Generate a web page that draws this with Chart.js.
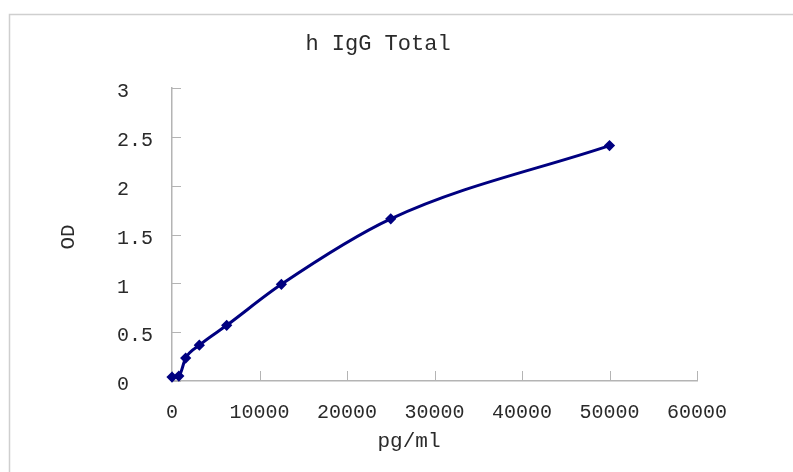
<!DOCTYPE html>
<html>
<head>
<meta charset="utf-8">
<title>h IgG Total</title>
<script src="https://cdn.jsdelivr.net/npm/chart.js@4/dist/chart.umd.min.js"></script>
<style>
  html, body { margin: 0; padding: 0; background: #fff; }
  #wrap { width: 793px; height: 472px; }
</style>
</head>
<body>
<div id="wrap"><canvas id="chart" width="793" height="472"></canvas></div>
<script>
// standard curve values
var concentrations = [0, 781.25, 1562.5, 3125, 6250, 12500, 25000, 50000];
var odValues = [0.04, 0.05, 0.235, 0.367, 0.57, 0.99, 1.66, 2.41];
var xTicks = [0, 10000, 20000, 30000, 40000, 50000, 60000];
var yTicks = [0, 0.5, 1, 1.5, 2, 2.5, 3];

var titleText = 'h IgG Total';
var xTitle = 'pg/ml';
var yTitle = 'OD';

var axisColor = '#b4b4b4';
var textColor = '#2a2a2a';
var monoFont = '"Liberation Mono", "DejaVu Sans Mono", monospace';

var points = concentrations.map(function (c, i) {
    return { x: c, y: odValues[i] };
});

// frame, inward tick marks and the free-placed titles
var decorPlugin = {
    id: 'decor',
    beforeDraw: function (chart) {
        var ctx = chart.ctx;
        ctx.save();
        ctx.fillStyle = '#fff';
        ctx.fillRect(0, 0, chart.width, chart.height);
        ctx.strokeStyle = '#cfcfcf';
        ctx.lineWidth = 1.5;
        ctx.beginPath();
        ctx.moveTo(9.5, chart.height);
        ctx.lineTo(9.5, 14.5);
        ctx.lineTo(chart.width, 14.5);
        ctx.stroke();
        ctx.restore();
    },
    beforeDatasetsDraw: function (chart) {
        var ctx = chart.ctx;
        var xs = chart.scales.x, ys = chart.scales.y;
        var area = chart.chartArea;
        ctx.save();
        ctx.strokeStyle = axisColor;
        ctx.lineWidth = 1;
        ctx.beginPath();
        yTicks.forEach(function (v) {
            var py = Math.round(ys.getPixelForValue(v)) + 0.5;
            ctx.moveTo(area.left, py);
            ctx.lineTo(area.left + 9, py);
        });
        xTicks.forEach(function (v) {
            var px = Math.round(xs.getPixelForValue(v)) + 0.5;
            ctx.moveTo(px, area.bottom);
            ctx.lineTo(px, area.bottom - 10);
        });
        ctx.stroke();
        ctx.restore();
    },
    afterDraw: function (chart) {
        var ctx = chart.ctx;
        ctx.save();
        ctx.fillStyle = textColor;
        ctx.textAlign = 'center';
        ctx.textBaseline = 'middle';
        ctx.font = '22px ' + monoFont;
        ctx.fillText(titleText, 378, 44);
        ctx.font = '21px ' + monoFont;
        ctx.fillText(xTitle, 409, 441);
        ctx.translate(68, 237);
        ctx.rotate(-Math.PI / 2);
        ctx.fillText(yTitle, 0, 0);
        ctx.restore();
    }
};

new Chart(document.getElementById('chart'), {
    type: 'scatter',
    data: {
        datasets: [{
            data: points,
            showLine: true,
            clip: false,
            borderColor: '#000080',
            backgroundColor: '#000080',
            borderWidth: 3,
            cubicInterpolationMode: 'monotone',
            pointStyle: 'rectRot',
            pointRadius: 3.5,
            pointHoverRadius: 3.5
        }]
    },
    options: {
        responsive: false,
        devicePixelRatio: 1,
        animation: false,
        layout: { padding: { left: 117, right: 96, top: 88, bottom: 0 } },
        plugins: {
            legend: { display: false },
            title: { display: false },
            tooltip: { enabled: false }
        },
        scales: {
            x: {
                type: 'linear',
                min: 0,
                max: 60000,
                afterBuildTicks: function (scale) {
                    scale.ticks = xTicks.map(function (v) { return { value: v }; });
                },
                afterFit: function (scale) { scale.height = 91; },
                grid: { drawOnChartArea: false, drawTicks: false },
                border: { color: axisColor, width: 1.5 },
                ticks: {
                    padding: 20,
                    color: textColor,
                    font: { family: monoFont, size: 20 },
                    maxRotation: 0,
                    callback: function (v) { return String(v); }
                }
            },
            y: {
                type: 'linear',
                min: 0,
                max: 3,
                afterBuildTicks: function (scale) {
                    scale.ticks = yTicks.map(function (v) { return { value: v }; });
                },
                afterFit: function (scale) { scale.width = 55; },
                grid: { drawOnChartArea: false, drawTicks: false },
                border: { color: axisColor, width: 1.5 },
                ticks: {
                    crossAlign: 'far',
                    labelOffset: 4,
                    color: textColor,
                    font: { family: monoFont, size: 20 },
                    callback: function (v) { return String(v); }
                }
            }
        }
    },
    plugins: [decorPlugin]
});
</script>
</body>
</html>
